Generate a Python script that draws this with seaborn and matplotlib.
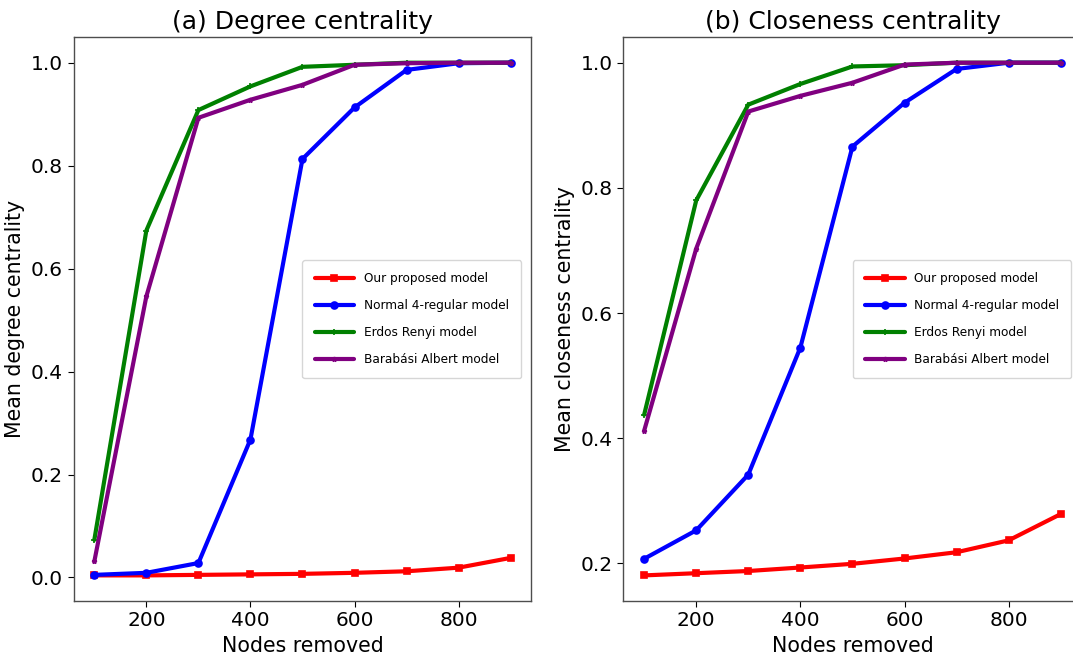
import numpy as np
import pandas as pd
import matplotlib
matplotlib.use("Agg")
import matplotlib.pyplot as plt
import seaborn as sns

# ---------------------------------------------------------
# data
# ---------------------------------------------------------
nodes_removed = [100, 200, 300, 400, 500, 600, 700, 800, 900]

model_names = [
    "Our proposed model",
    "Normal 4-regular model",
    "Erdos Renyi model",
    "Barabási Albert model",
]

degree_proposed = [0.004, 0.004, 0.005, 0.006, 0.007, 0.009, 0.012, 0.019, 0.038]
degree_regular = [0.005, 0.009, 0.028, 0.268, 0.813, 0.913, 0.986, 0.999, 1.0]
degree_erdos = [0.073, 0.674, 0.908, 0.954, 0.992, 0.996, 1.0, 1.0, 1.0]
degree_barabasi = [0.031, 0.546, 0.893, 0.928, 0.957, 0.996, 0.999, 1.0, 1.0]

closeness_proposed = [0.181, 0.1845, 0.188, 0.1936, 0.1995, 0.208, 0.218, 0.237, 0.279]
closeness_regular = [0.2075, 0.253, 0.342, 0.545, 0.866, 0.936, 0.990, 1.0, 1.0]
closeness_erdos = [0.4375, 0.780, 0.933, 0.966, 0.994, 0.996, 1.0, 1.0, 1.0]
closeness_barabasi = [0.412, 0.703, 0.922, 0.947, 0.968, 0.997, 1.0, 1.0, 1.0]

colores = ["red", "blue", "green", "purple"]
marcadores = ["s", "o", "+", "*"]
tamanos = [5, 5, 4, 3.5]

# ---------------------------------------------------------
# figure
# ---------------------------------------------------------
sns.set_style("ticks")
plt.rcParams["font.family"] = ["DejaVu Sans"]
plt.rcParams["text.color"] = "black"
plt.rcParams["axes.labelcolor"] = "black"
plt.rcParams["xtick.color"] = "black"
plt.rcParams["ytick.color"] = "black"

fig = plt.figure(figsize=(10.73, 6.55), dpi=100)
# the right panel runs a little past the figure edge, as in the original
ax1 = fig.add_axes([0.0685, 0.0824, 0.4268, 0.861])
ax2 = fig.add_axes([0.5809, 0.0824, 0.4271, 0.861])

paneles = [
    (ax1, [degree_proposed, degree_regular, degree_erdos, degree_barabasi],
     "(a) Degree centrality", "Mean degree centrality"),
    (ax2, [closeness_proposed, closeness_regular, closeness_erdos, closeness_barabasi],
     "(b) Closeness centrality", "Mean closeness centrality"),
]

for ax, series, titulo, ylabel in paneles:
    for nombre, valores, c, m, ms in zip(model_names, series, colores, marcadores, tamanos):
        df = pd.DataFrame({"nodes": nodes_removed, "value": valores})
        sns.lineplot(data=df, x="nodes", y="value", ax=ax, color=c, marker=m,
                     markersize=ms, markeredgecolor=c, markeredgewidth=1.2,
                     linewidth=3, label=nombre)
    ax.set_title(titulo, fontsize=18, color="black")
    ax.set_xlabel("Nodes removed", fontsize=14.8)
    ax.set_ylabel(ylabel, fontsize=14.8)
    ax.set_xticks([200, 400, 600, 800])
    ax.tick_params(labelsize=14.5, length=4, colors="black")
    for s in ax.spines.values():
        s.set_color("0.3")
        s.set_linewidth(1.0)
    leg = ax.legend(loc="center right", fontsize=8.7, borderpad=1.0, labelspacing=1.15,
                    handlelength=3.3, borderaxespad=0.85, frameon=True)
    for t in leg.get_texts():
        t.set_color("black")

ax1.set_yticks([0.0, 0.2, 0.4, 0.6, 0.8, 1.0])
ax2.set_yticks([0.2, 0.4, 0.6, 0.8, 1.0])

fig.savefig("out.png", dpi=100)
